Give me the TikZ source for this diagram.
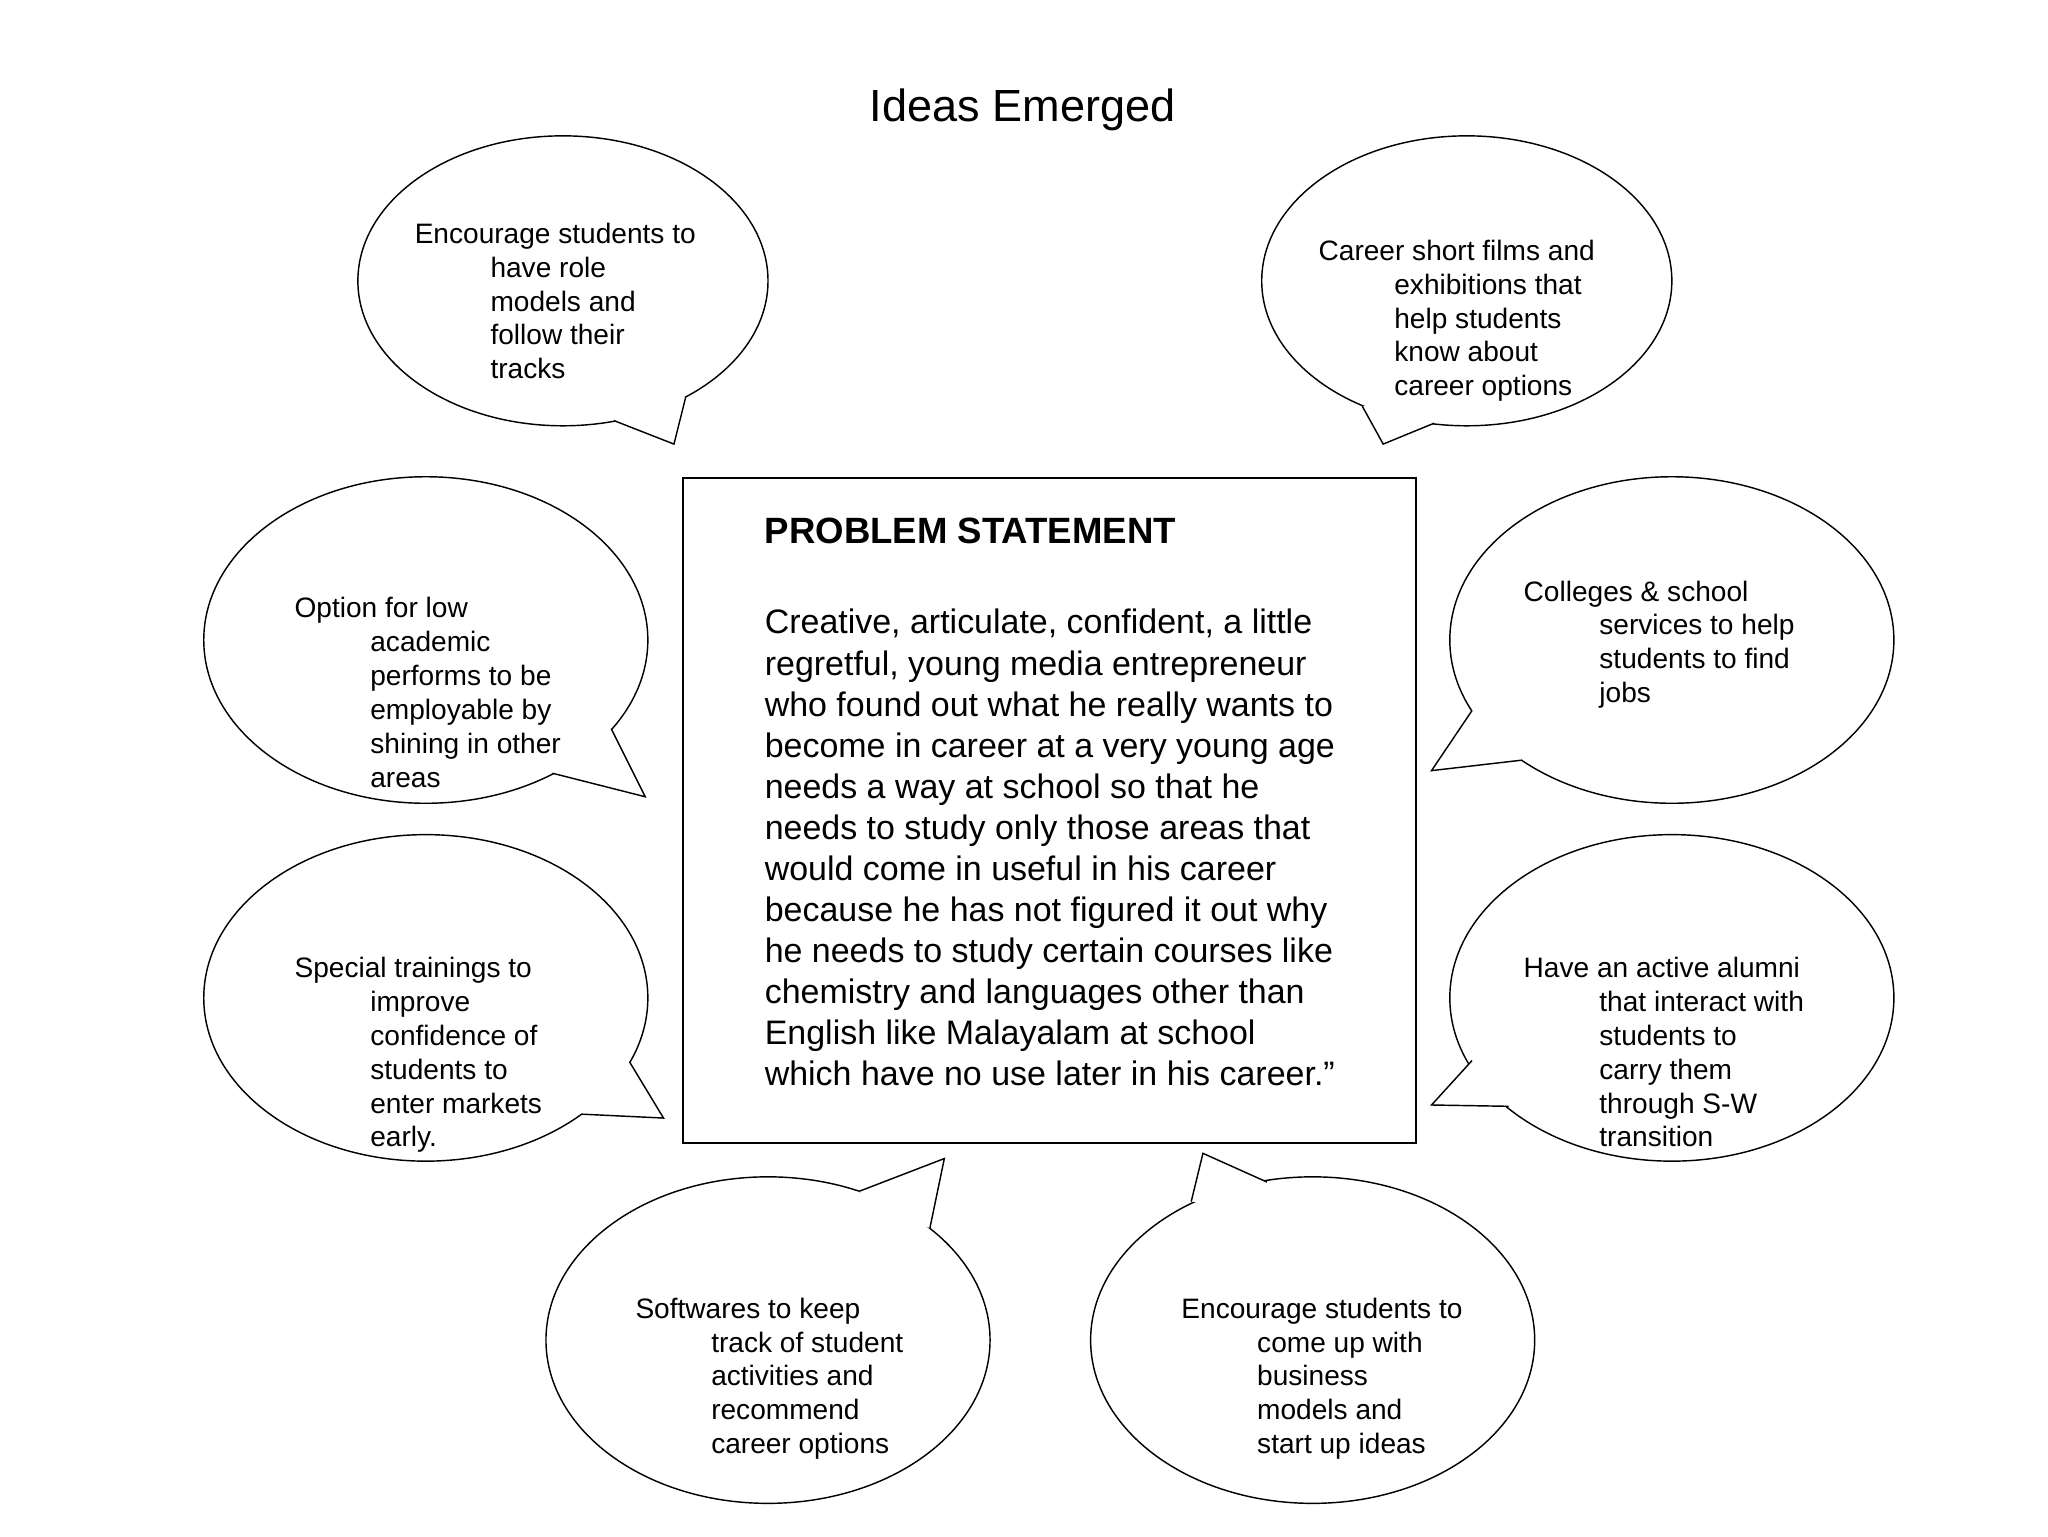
\documentclass[tikz,border=0pt]{standalone}
\usepackage{fontspec}
\setmainfont{Liberation Sans}
\usetikzlibrary{calc}
\begin{document}
\begin{tikzpicture}[x=1pt,y=-1pt,line width=1.1pt,
  btxt/.style={anchor=north west,align=left,font=\fontsize{21.5}{26}\selectfont,inner sep=0pt}]
\useasboundingbox (0,0) rectangle (1568,1176);
\node[font=\fontsize{34.5}{40}\selectfont,anchor=base] (title) at (783,93) {Ideas Emerged};
% bubbles
\newcommand\bub[7]{%
  \draw (#1,#2) ellipse [x radius=#3, y radius=#4];
  \fill[white] (#5) -- (#6) -- (#7) -- ($(#5)!0.5!(#7)!0.08!(#1,#2)$) -- cycle;
  \draw (#5) -- (#6) -- (#7);
}
\bub{431}{215}{157}{111}{470,322}{516,340}{525,304}
\bub{1123}{215}{157}{111}{1098,324}{1059,340}{1043,311}
\bub{326}{490}{170}{125}{468,558}{494,610}{423,592}
\bub{1280}{490}{170}{125}{1127,544}{1096,590}{1165,582}
\bub{326}{764}{170}{125}{482,813}{508,856}{445,853}
\bub{1280}{764}{170}{125}{1127,812}{1096,846}{1155,847}
\bub{588}{1026}{170}{125}{658,912}{723,887}{712,940}
\bub{1005}{1026}{170}{125}{912,920}{921,883}{970,905}
\def\ind{\hspace*{58pt}}
\node[btxt] (t1) at (317,170) {Encourage students to\\\ind have role\\\ind models and\\\ind follow their\\\ind tracks};
\node[btxt] (t2) at (1009,183) {Career short films and\\\ind exhibitions that\\\ind help students\\\ind know about\\\ind career options};
\node[btxt] (t3) at (225,457) {Option for low\\\ind academic\\\ind performs to be\\\ind employable by\\\ind shining in other\\\ind areas};
\node[btxt] (t4) at (1166,444) {Colleges \& school\\\ind services to help\\\ind students to find\\\ind jobs};
\node[btxt] (t5) at (225,732) {Special trainings to\\\ind improve\\\ind confidence of\\\ind students to\\\ind enter markets\\\ind early.};
\node[btxt] (t6) at (1166,732) {Have an active alumni\\\ind that interact with\\\ind students to\\\ind carry them\\\ind through S-W\\\ind transition};
\node[btxt] (t7) at (486,993) {Softwares to keep\\\ind track of student\\\ind activities and\\\ind recommend\\\ind career options};
\node[btxt] (t8) at (904,993) {Encourage students to\\\ind come up with\\\ind business\\\ind models and\\\ind start up ideas};
% box
\draw[fill=white] (523,366) rectangle (1084,875);
\node[anchor=base west,inner sep=0pt,font=\bfseries\fontsize{28}{32}\selectfont] (ps) at (585,416) {PROBLEM STATEMENT};
\node[anchor=north west,inner sep=0pt,align=left,font=\fontsize{26}{31.4}\selectfont] (body) at (585,466) {Creative, articulate, confident, a little\\regretful, young media entrepreneur\\who found out what he really wants to\\become in career at a very young age\\needs a way at school so that he\\needs to study only those areas that\\would come in useful in his career\\because he has not figured it out why\\he needs to study certain courses like\\chemistry and languages other than\\English like Malayalam at school\\which have no use later in his career.”};
\end{tikzpicture}
\end{document}
